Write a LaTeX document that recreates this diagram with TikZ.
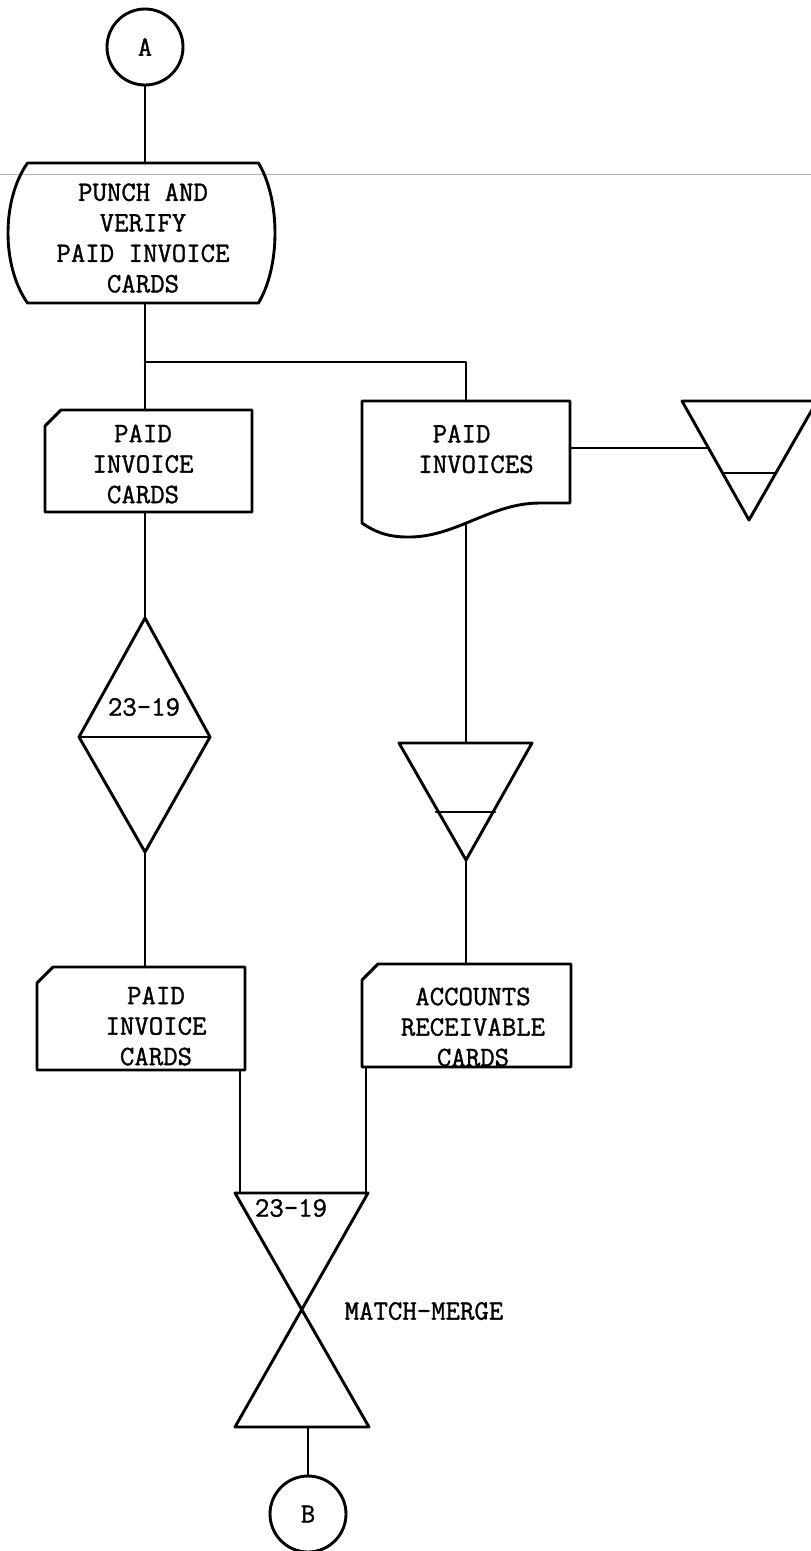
\documentclass[tikz,border=0pt]{standalone}
\usepackage{fontspec}
\newfontfamily\twfont[FakeBold=1.2]{Latin Modern Mono}
\begin{document}
\begin{tikzpicture}[x=1pt,y=-1pt,
  ln/.style={line width=2.9pt, line join=round, line cap=round},
  tw/.style={font=\twfont\fontsize{28}{30.5}\selectfont, align=center, inner sep=0pt},
  conn/.style={circle, draw, line width=2.9pt, minimum size=76pt, inner sep=0pt, font=\twfont\fontsize{28}{30}\selectfont},
  area/.style={inner sep=0pt, outer sep=0pt, draw=none}]
\useasboundingbox (0,0) rectangle (811,1551);
\clip (0,0) rectangle (811,1551);

% faint scan line across the page
\coordinate (scanL) at (0,174);
\coordinate (scanR) at (811,174);
\draw[gray!60, line width=0.8pt] (scanL) -- (scanR);

% connector A
\node[conn] (A) at (145,47) {A};

% manual operation
\node[area, minimum width=231pt, minimum height=140pt] (punch) at (143,233) {};
\draw[ln] (punch.north west) -- (punch.north east)
  .. controls ([xshift=22pt,yshift=-37pt]punch.north east) and ([xshift=22pt,yshift=37pt]punch.south east) .. (punch.south east)
  -- (punch.south west)
  .. controls ([xshift=-26pt,yshift=37pt]punch.south west) and ([xshift=-26pt,yshift=-37pt]punch.north west) .. (punch.north west) -- cycle;
\node[tw] (punchT) at (143,238) {PUNCH AND\\VERIFY\\PAID INVOICE\\CARDS};

% card 1
\node[area, minimum width=207pt, minimum height=102pt] (card1) at (148.5,461) {};
\draw[ln] ([yshift=-16pt]card1.north west) -- ([xshift=16pt]card1.north west) -- (card1.north east) -- (card1.south east) -- (card1.south west) -- cycle;
\node[tw] (card1T) at (143,464) {PAID\\INVOICE\\CARDS};

% document
\node[area, minimum width=208pt, minimum height=122pt] (doc) at (466,462) {};
\draw[ln] (doc.north west) -- (doc.north east) -- (570,503) -- (540,503)
  .. controls (490,503) and (455,538) .. (407,537)
  .. controls (385,537) and (372,530) .. (doc.south west) -- cycle;
\node[tw] (docT) at (476,449) {PAID\phantom{II}\\INVOICES};

% offline storage right
\coordinate (tri1in) at (707,448);
\draw[ln] (682,401) -- (817,401) -- (749,520) -- cycle;
\draw[ln] (723,473) -- (776,473);

% offline storage middle
\coordinate (tri2top) at (466,743);
\coordinate (tri2tip) at (466,860);
\draw[ln] (399,743) -- (532,743) -- (tri2tip) -- cycle;
\draw[ln] (436,812) -- (495,812);

% sort diamond
\coordinate (dT) at (145,618);
\coordinate (dL) at (79,737);
\coordinate (dR) at (210,737);
\coordinate (dB) at (145,852);
\draw[ln] (dT) -- (dR) -- (dB) -- (dL) -- cycle;
\draw[ln] (dL) -- (dR);
\node[tw] (sortT) at (144,707) {23-19};

% card 2
\node[area, minimum width=208pt, minimum height=103pt] (card2) at (141,1018.5) {};
\draw[ln] ([yshift=-16pt]card2.north west) -- ([xshift=16pt]card2.north west) -- (card2.north east) -- (card2.south east) -- (card2.south west) -- cycle;
\node[tw] (card2T) at (156,1026) {PAID\\INVOICE\\CARDS};

% card 3
\node[area, minimum width=209pt, minimum height=103pt] (card3) at (466.5,1015.5) {};
\draw[ln] ([yshift=-16pt]card3.north west) -- ([xshift=16pt]card3.north west) -- (card3.north east) -- (card3.south east) -- (card3.south west) -- cycle;
\node[tw] (card3T) at (473,1027) {ACCOUNTS\\RECEIVABLE\\CARDS};

% collate
\coordinate (cTL) at (235,1193);
\coordinate (cTR) at (368,1193);
\coordinate (cBL) at (235,1427);
\coordinate (cBR) at (369,1427);
\coordinate (cinL) at (240,1193);
\coordinate (cinR) at (366,1193);
\coordinate (cBot) at (308,1427);
\draw[ln] (cTL) -- (cTR) -- (cBL) -- (cBR) -- cycle;
\node[tw] (collT) at (291,1208) {23-19};
\node[tw] (mm) at (424,1311) {MATCH-MERGE};

% connector B
\node[conn] (B) at (308,1514) {B};

% connectors
\coordinate (jn) at (145,362);
\draw[ln] (A.south) -- (A.south |- punch.north);
\draw[ln] (punch.south -| jn) -- (jn) -- (jn |- card1.north);
\draw[ln] (jn) -| (doc.north);
\draw[ln] (doc.east |- tri1in) -- (tri1in);
\draw[ln] (doc.south) -- (tri2top);
\draw[ln] (card1.south -| dT) -- (dT);
\draw[ln] (dB) -- (dB |- card2.north);
\draw[ln] (tri2tip) -- (tri2tip |- card3.north);
\draw[ln] (card2.south -| cinL) -- (cinL);
\draw[ln] (card3.south -| cinR) -- (cinR);
\draw[ln] (cBot) -- (B);
\end{tikzpicture}
\end{document}
